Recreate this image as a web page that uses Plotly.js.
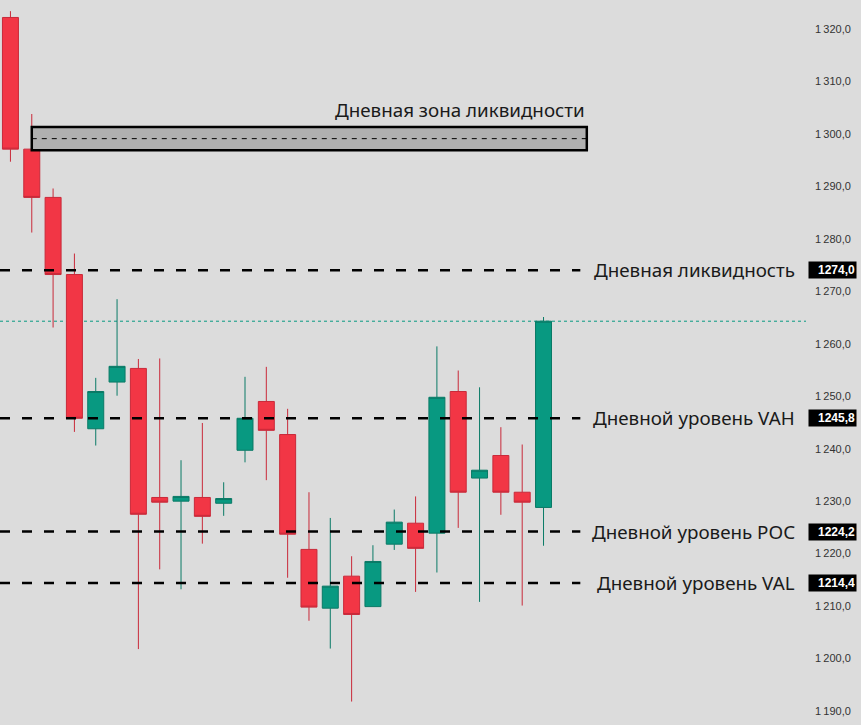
<!DOCTYPE html>
<html><head><meta charset="utf-8">
<script src="https://cdn.plot.ly/plotly-3.0.1.min.js"></script>
<style>html,body{margin:0;padding:0;background:#dcdcdc;}#chart{width:861px;height:725px;}</style>
</head><body><div id="chart"></div>
<script>
const candleIndex = [0,1,2,3,4,5,6,7,8,9,10,11,12,13,14,15,16,17,18,19,20,21,22,23,24,25];
const openPrices  = [1322.2,1297.1,1287.9,1273.2,1243.8,1252.7,1255.3,1230.7,1230.0,1230.7,1229.6,1239.7,1249.0,1242.7,1220.8,1209.6,1215.7,1209.9,1221.8,1225.8,1223.9,1250.9,1234.4,1238.7,1231.7,1228.8];
const highPrices  = [1323.4,1303.8,1289.6,1277.2,1253.5,1268.5,1257.1,1257.2,1237.8,1244.9,1233.6,1253.7,1255.6,1247.6,1231.7,1226.8,1219.5,1221.6,1228.4,1230.9,1259.5,1254.9,1251.7,1244.1,1240.8,1265.1];
const lowPrices   = [1294.7,1281.2,1263.1,1243.2,1240.6,1250.1,1201.8,1217.0,1213.2,1221.9,1227.2,1237.4,1234.0,1215.4,1207.2,1201.9,1191.8,1209.9,1220.7,1212.7,1216.4,1224.9,1210.8,1227.4,1210.1,1221.5];
const closePrices = [1297.1,1287.9,1273.2,1245.8,1250.9,1255.7,1227.5,1229.8,1230.9,1227.1,1230.5,1245.8,1243.5,1223.7,1209.8,1213.8,1208.4,1218.5,1226.0,1221.0,1249.8,1231.7,1235.9,1231.7,1229.8,1264.3];

const levelPrices = [1274.0, 1245.8, 1224.2, 1214.4];
const levelLabels = ["Дневная ликвидность","Дневной уровень VAH","Дневной уровень POC","Дневной уровень VAL"];
const levelTags   = ["1274,0","1245,8","1224,2","1214,4"];
const zoneLow = 1296.9, zoneHigh = 1301.3, zoneMid = 1299.1;
const zoneLabel = "Дневная зона ликвидности";
const lastPrice = 1264.3;
const tickValues = [1190,1200,1210,1220,1230,1240,1250,1260,1270,1280,1290,1300,1310,1320];

const BG = '#dcdcdc';
const trace = {
  type:'candlestick', x:candleIndex, open:openPrices, high:highPrices, low:lowPrices, close:closePrices,
  increasing:{line:{color:'#0a7a66',width:1}, fillcolor:'#089981'},
  decreasing:{line:{color:'#c92a3a',width:1}, fillcolor:'#f23645'},
  whiskerwidth:0, hoverinfo:'none', showlegend:false
};

const shapes = [];
shapes.push({type:'rect', xref:'x', yref:'y', x0:1, x1:27.03, y0:zoneLow, y1:zoneHigh, fillcolor:'#b0b0b0', line:{color:'#000',width:2.5}, layer:'above'});
shapes.push({type:'line', xref:'x', yref:'y', x0:1, x1:27.03, y0:zoneMid, y1:zoneMid, line:{color:'#000',width:1,dash:'5px,5px'}, layer:'above'});
shapes.push({type:'line', xref:'paper', yref:'y', x0:0, x1:1, y0:lastPrice, y1:lastPrice, line:{color:'#089981',width:1,dash:'dot'}, layer:'below'});
levelPrices.forEach(p=>{
  shapes.push({type:'line', xref:'paper', yref:'y', x0:0, x1:0.72, y0:p, y1:p, line:{color:'#000',width:2.5,dash:'10px,12px'}, layer:'above'});
});

const annotations = [];
levelPrices.forEach((p,i)=>{
  annotations.push({xref:'paper', yref:'y', x:0.989, y:p, xanchor:'right', yanchor:'middle', text:levelLabels[i], showarrow:false,
    font:{family:'Noto Sans, sans-serif', size:18.8, color:'#1a1a1a'}});
  annotations.push({xref:'paper', yref:'y', x:1, xshift:2, y:p, xanchor:'left', yanchor:'middle', text:'<b>'+levelTags[i]+'</b>', showarrow:false,
    bgcolor:'#000', borderpad:1, width:45, height:14, align:'right',
    font:{family:'Liberation Sans, Arial, sans-serif', size:12, color:'#fff'}});
});
annotations.push({xref:'x', yref:'y', x:27.03, y:1304.6, xanchor:'right', yanchor:'middle', text:zoneLabel, showarrow:false,
  font:{family:'Noto Sans, sans-serif', size:18.8, color:'#1a1a1a'}});

const layout = {
  width:861, height:725, paper_bgcolor:BG, plot_bgcolor:BG,
  margin:{l:0,r:55,t:0,b:0},
  separators:',\u2009',
  boxgap:0.25, boxgroupgap:0,
  xaxis:{range:[-0.49,37.31], visible:false, rangeslider:{visible:false}, fixedrange:true},
  yaxis:{range:[1187.33,1325.53], side:'right', tickvals:tickValues, tickformat:',.1f', showgrid:false, zeroline:false,
    showline:false, ticks:'', ticklabelstandoff:8, tickfont:{family:'Liberation Sans, Arial, sans-serif', size:11, color:'#333'}},
  shapes:shapes, annotations:annotations
};
Plotly.newPlot('chart',[trace],layout,{staticPlot:true});
</script></body></html>
